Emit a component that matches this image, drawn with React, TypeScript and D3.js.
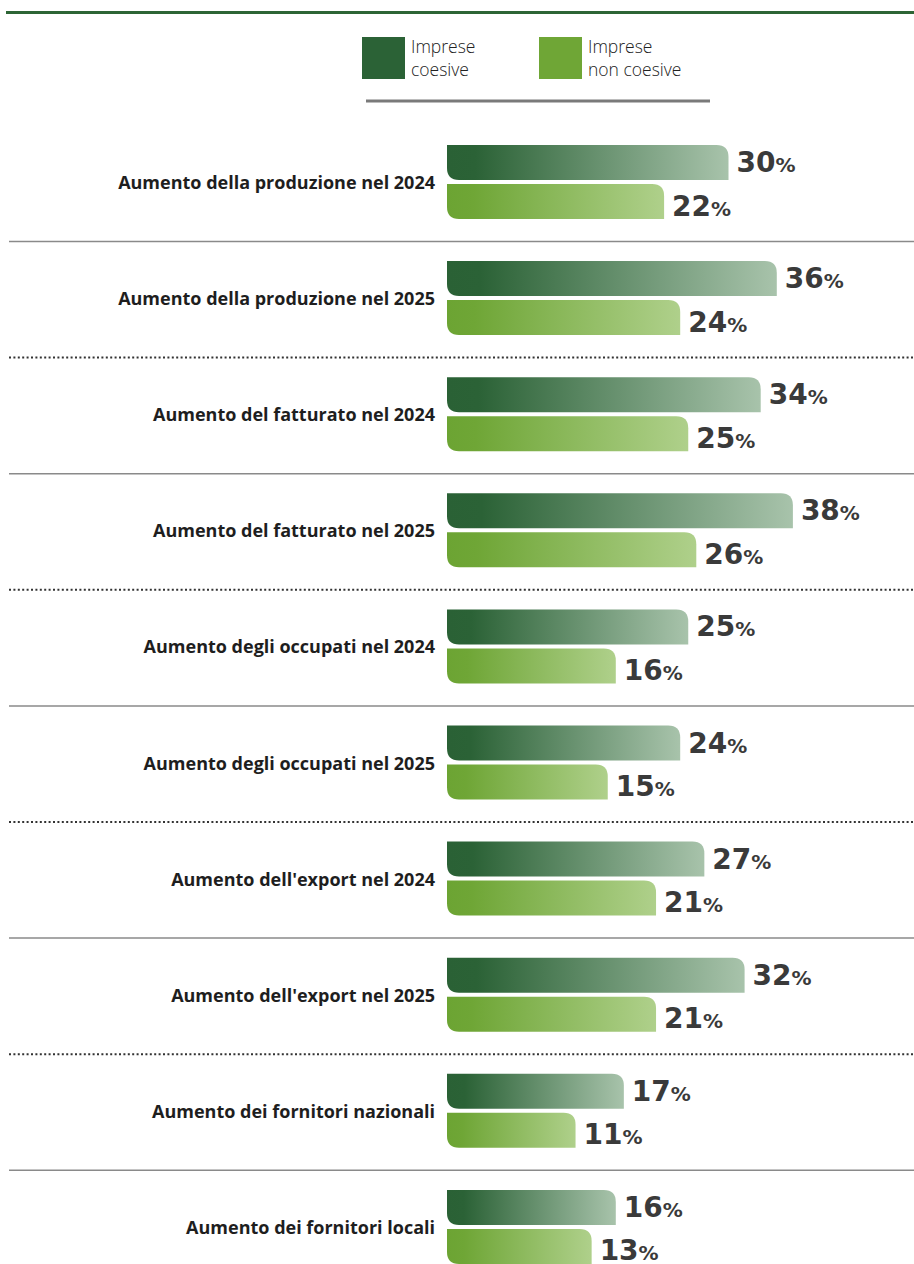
import React from "react";
import * as d3 from "d3";

const categories = [
  "Aumento della produzione nel 2024",
  "Aumento della produzione nel 2025",
  "Aumento del fatturato nel 2024",
  "Aumento del fatturato nel 2025",
  "Aumento degli occupati nel 2024",
  "Aumento degli occupati nel 2025",
  "Aumento dell'export nel 2024",
  "Aumento dell'export nel 2025",
  "Aumento dei fornitori nazionali",
  "Aumento dei fornitori locali",
];
const coesive = [30, 36, 34, 38, 25, 24, 27, 32, 17, 16];
const nonCoesive = [22, 24, 25, 26, 16, 15, 21, 21, 11, 13];
const legendLabels = [["Imprese", "coesive"], ["Imprese", "non coesive"]];

const W = 914;
const H = 1264;
const BAR_X0 = 447;
const BAR_H = 35;
const GAP = 4;
const R = 12;

function barPath(x0: number, x1: number, y: number, h: number) {
  const r = Math.min(R, (x1 - x0) / 2, h / 2);
  return `M${x0},${y} L${x1 - r},${y} Q${x1},${y} ${x1},${y + r} L${x1},${y + h} L${x0 + r},${y + h} Q${x0},${y + h} ${x0},${y + h - r} Z`;
}

export default function App() {
  const y = d3
    .scaleBand<string>()
    .domain(categories)
    .range([145, 145 + 116.1 * categories.length])
    .paddingInner(0)
    .paddingOuter(0);
  const w = d3.scaleLinear().domain([0, 40]).range([40, 362]);
  const labelFont = "'Open Sans', Lato, sans-serif";
  const numFont = "'DejaVu Sans', 'Open Sans', sans-serif";

  return (
    <svg
      width={W}
      height={H}
      style={{ position: "absolute", left: 0, top: 0, background: "#fff" }}
      fontFamily={labelFont}
    >
      <defs>
        <linearGradient id="gDark" x1="0" x2="1" y1="0" y2="0">
          <stop offset="0" stopColor="#2a6135" />
          <stop offset="0.1" stopColor="#2b6236" />
          <stop offset="1" stopColor="#a8c3ab" />
        </linearGradient>
        <linearGradient id="gLight" x1="0" x2="1" y1="0" y2="0">
          <stop offset="0" stopColor="#6ca433" />
          <stop offset="0.12" stopColor="#6fa636" />
          <stop offset="1" stopColor="#afd08b" />
        </linearGradient>
      </defs>

      {/* top rule */}
      <line x1={6} x2={W} y1={12.5} y2={12.5} stroke="#2d6535" strokeWidth={3} />

      {/* legend */}
      <rect x={362} y={37} width={43} height={42} fill="#2b6236" />
      <rect x={539} y={37} width={43} height={42} fill="#6fa636" />
      {legendLabels.map((lines, i) => (
        <text
          key={i}
          x={i === 0 ? 411 : 588}
          y={53}
          fontSize={17.5}
          fontWeight={300}
          fill="#222"
        >
          {lines.map((l, j) => (
            <tspan key={j} x={i === 0 ? 411 : 588} dy={j === 0 ? 0 : 23}>
              {l}
            </tspan>
          ))}
        </text>
      ))}
      <line x1={366} x2={710} y1={101} y2={101} stroke="#7a7a7a" strokeWidth={3} />

      {/* separators */}
      {categories.slice(0, -1).map((c, i) => {
        const sy = (y(c) as number) + 96.5;
        return i % 2 === 0 ? (
          <line key={c} x1={9} x2={W} y1={sy} y2={sy} stroke="#8a8a8a" strokeWidth={1.5} />
        ) : (
          <line
            key={c}
            x1={9}
            x2={W}
            y1={sy}
            y2={sy}
            stroke="#333"
            strokeWidth={2}
            strokeDasharray="2 2.4"
          />
        );
      })}

      {categories.map((c, i) => {
        const top = y(c) as number;
        const x1a = BAR_X0 + w(coesive[i]);
        const x1b = BAR_X0 + w(nonCoesive[i]);
        const yb = top + BAR_H + GAP;
        return (
          <g key={c}>
            <text
              x={435}
              y={top + 44}
              textAnchor="end"
              fontSize={18}
              fontWeight={700}
              fill="#1e1e1e"
            >
              {c}
            </text>
            <path d={barPath(BAR_X0, x1a, top, BAR_H)} fill="url(#gDark)" />
            <path d={barPath(BAR_X0, x1b, yb, BAR_H)} fill="url(#gLight)" />
            <text
              x={x1a + 8}
              y={top + 27}
              fill="#3a3a3a"
              fontFamily={numFont}
              fontWeight={700}
              fontSize={28}
            >
              {coesive[i]}
              <tspan fontSize={20}>%</tspan>
            </text>
            <text
              x={x1b + 8}
              y={yb + 31.5}
              fill="#3a3a3a"
              fontFamily={numFont}
              fontWeight={700}
              fontSize={28}
            >
              {nonCoesive[i]}
              <tspan fontSize={20}>%</tspan>
            </text>
          </g>
        );
      })}
    </svg>
  );
}
